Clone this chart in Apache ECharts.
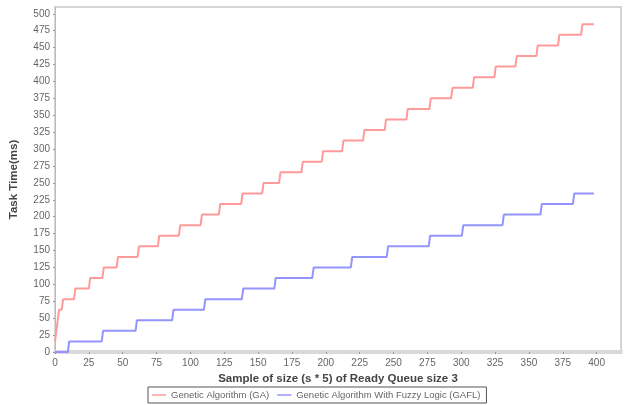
<!DOCTYPE html>
<html>
<head>
<meta charset="utf-8">
<script src="https://cdn.jsdelivr.net/npm/echarts@6/dist/echarts.min.js"></script>
<style>html,body{margin:0;padding:0;background:#fff}#c{width:625px;height:405px}</style>
</head>
<body>
<div id="c"></div>
<script>
// Genetic Algorithm (GA): step corner points
var gaX = [0, 3, 5, 6, 14, 15, 25, 26, 35, 36, 45.5, 46.5, 61, 62, 76, 77, 91.5, 92.5, 107.5, 108.5, 121, 122, 137.5, 138.5, 153, 154, 165.5, 166.5, 182, 183, 197, 198, 212, 213, 227.5, 228.5, 243.5, 244.5, 259.5, 260.5, 276.5, 277.5, 292.5, 293.5, 308.5, 309.5, 324.5, 325.5, 340, 341, 355.5, 356.5, 371.5, 372.5, 388.5, 389.5, 398];
var gaY = [15.6, 62.5, 62.5, 78.1, 78.1, 93.8, 93.8, 109.4, 109.4, 125, 125, 140.6, 140.6, 156.3, 156.3, 171.9, 171.9, 187.5, 187.5, 203.1, 203.1, 218.8, 218.8, 234.4, 234.4, 250, 250, 265.6, 265.6, 281.3, 281.3, 296.9, 296.9, 312.5, 312.5, 328.1, 328.1, 343.8, 343.8, 359.4, 359.4, 375, 375, 390.6, 390.6, 406.3, 406.3, 421.9, 421.9, 437.5, 437.5, 453.1, 453.1, 468.8, 468.8, 484.4, 484.4];
// Genetic Algorithm With Fuzzy Logic (GAFL)
var gaflX = [0, 9.5, 10.5, 34.5, 35.5, 59.5, 60.5, 86.5, 87.5, 110, 111, 138, 139, 162, 163, 190, 191, 218.5, 219.5, 245, 246, 276, 277, 300.5, 301.5, 330.5, 331.5, 358.5, 359.5, 382.5, 383.5, 398];
var gaflY = [0, 0, 15.6, 15.6, 31.3, 31.3, 46.9, 46.9, 62.5, 62.5, 78.1, 78.1, 93.8, 93.8, 109.4, 109.4, 125, 125, 140.6, 140.6, 156.3, 156.3, 171.9, 171.9, 187.5, 187.5, 203.1, 203.1, 218.8, 218.8, 234.4, 234.4];

var seriesNames = ['Genetic Algorithm (GA)', 'Genetic Algorithm With Fuzzy Logic (GAFL)'];
var xTicks = [0, 25, 50, 75, 100, 125, 150, 175, 200, 225, 250, 275, 300, 325, 350, 375, 400];
var yTicks = [0, 25, 50, 75, 100, 125, 150, 175, 200, 225, 250, 275, 300, 325, 350, 375, 400, 425, 450, 475, 500];
var xName = 'Sample of size (s * 5) of Ready Queue size 3';
var yName = 'Task Time(ms)';

function pairs(xs, ys) { return xs.map(function (x, i) { return [x, ys[i]]; }); }

var font = 'Liberation Sans, Arial, sans-serif';
var redC = '#ff9a9a', blueC = '#9494ff';
var chart = echarts.init(document.getElementById('c'), null, {renderer: 'canvas'});
chart.setOption({
  animation: false,
  backgroundColor: '#fff',
  grid: {left: 53, right: 4, top: 7, bottom: 53, show: true, borderColor: '#c8c8c8', borderWidth: 1.5, containLabel: false},
  xAxis: {
    type: 'value', min: 0, max: 418,
    name: xName, nameLocation: 'middle', nameGap: 21,
    nameTextStyle: {fontFamily: font, fontWeight: 'bold', fontSize: 11.5, color: '#444'},
    axisLine: {show: true, onZero: false, lineStyle: {color: '#d9d9d9', width: 4}},
    axisTick: {show: true, length: 2, customValues: xTicks, lineStyle: {color: '#999'}},
    axisLabel: {customValues: xTicks, fontFamily: font, fontSize: 10, color: '#666', margin: 6},
    splitLine: {show: false}
  },
  yAxis: {
    type: 'value', min: 0, max: 510,
    name: yName, nameLocation: 'middle', nameGap: 33, nameRotate: 90,
    nameTextStyle: {fontFamily: font, fontWeight: 'bold', fontSize: 11.5, color: '#444'},
    offset: 2,
    axisLine: {show: true, lineStyle: {color: '#bbb', width: 1}},
    axisTick: {show: true, length: 2, customValues: yTicks, lineStyle: {color: '#999'}},
    axisLabel: {customValues: yTicks, fontFamily: font, fontSize: 10, color: '#666', margin: 3},
    splitLine: {show: false}
  },
  legend: {
    left: 148, bottom: 2,
    borderColor: '#555', borderWidth: 1, padding: [3, 6, 3, 4],
    icon: 'rect', itemWidth: 14, itemHeight: 1.5, itemGap: 8,
    textStyle: {fontFamily: font, fontSize: 9.5, color: '#666'},
    data: seriesNames
  },
  series: [
    {name: seriesNames[0], type: 'line', symbol: 'none', data: pairs(gaX, gaY), lineStyle: {color: redC, width: 2}, itemStyle: {color: redC}},
    {name: seriesNames[1], type: 'line', symbol: 'none', data: pairs(gaflX, gaflY), lineStyle: {color: blueC, width: 2}, itemStyle: {color: blueC}}
  ]
});
</script>
</body>
</html>
